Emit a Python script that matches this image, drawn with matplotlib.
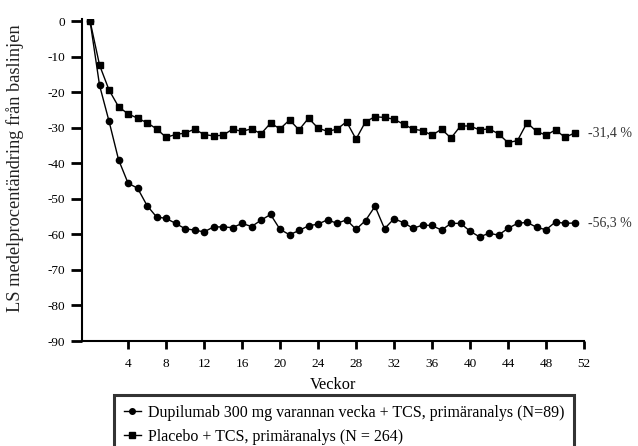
#LS mean percent change from baseline, weekly, two arms
import matplotlib
matplotlib.use("Agg")
from matplotlib import pyplot as plt

plt.rcParams['font.family'] = ['Liberation Serif', 'DejaVu Serif']
plt.rcParams['axes.unicode_minus'] = False

# Weeks 0..51
weeks = list(range(52))

# Dupilumab 300 mg q2w + TCS
dupilumab = [0, -18.1, -28.2, -39.0, -45.6, -47.0, -51.9, -55.1, -55.5, -56.9,
             -58.4, -58.8, -59.3, -57.9, -57.9, -58.1, -56.9, -57.8, -56.0, -54.4,
             -58.6, -60.1, -58.9, -57.6, -57.1, -55.9, -56.9, -55.9, -58.6, -56.1,
             -52.1, -58.4, -55.6, -56.7, -58.3, -57.4, -57.5, -58.8, -56.9, -56.9,
             -59.1, -60.7, -59.7, -60.2, -58.3, -56.9, -56.6, -58.0, -58.7, -56.5,
             -56.9, -56.8]

# Placebo + TCS
placebo = [0, -12.4, -19.4, -24.1, -26.1, -27.3, -28.6, -30.3, -32.7, -31.9,
           -31.5, -30.4, -31.9, -32.3, -32.1, -30.4, -31.0, -30.3, -31.7, -28.7,
           -30.3, -27.8, -30.6, -27.3, -30.1, -31.0, -30.4, -28.3, -33.2, -28.3,
           -26.9, -27.1, -27.6, -29.0, -30.4, -30.8, -32.1, -30.4, -32.9, -29.5,
           -29.5, -30.6, -30.3, -31.7, -34.2, -33.6, -28.6, -31.0, -32.1, -30.6,
           -32.7, -31.5]

end_labels = ["-56,3 %", "-31,4 %"]
series_names = ["Dupilumab 300 mg varannan vecka + TCS, primäranalys (N=89)",
                "Placebo + TCS, primäranalys (N = 264)"]

W, H = 638, 446
fig = plt.figure(figsize=(W / 100, H / 100), dpi=100)
ax = fig.add_axes([82 / W, 1 - 341 / H, (584 - 82) / W, (341 - 19) / H])

l1, = ax.plot(weeks, dupilumab, color='black', lw=1, marker='o', markersize=4.5)
l2, = ax.plot(weeks, placebo, color='black', lw=1, marker='s', markersize=5)

ax.text(52.4, dupilumab[-1], end_labels[0], va='center', ha='left', fontsize=10,
        color='#333333')
ax.text(52.4, placebo[-1], end_labels[1], va='center', ha='left', fontsize=10,
        color='#333333')

ax.set_xlim(-0.85, 52)
ax.set_ylim(-90, 0.6)
ax.set_xticks(range(4, 53, 4))
ax.set_yticks(range(-90, 1, 10))
ax.tick_params(axis='x', direction='out', length=6, width=2, labelsize=9.5, pad=6)
ax.tick_params(axis='y', direction='out', length=8, width=2, labelsize=9.5, pad=4)

for s in ['top', 'right']:
    ax.spines[s].set_visible(False)
for s in ['left', 'bottom']:
    ax.spines[s].set_linewidth(1.5)

ax.set_xlabel("Veckor", fontsize=11.8, labelpad=5)
fig.text(15 / W, 1 - 168 / H, "LS medelprocentändring från baslinjen",
         rotation=90, ha='center', va='center', fontsize=13.2, color='#222222')

leg = fig.legend([l1, l2], series_names, loc='upper left',
                 bbox_to_anchor=(114 / W, 1 - 395 / H), fontsize=11.5,
                 frameon=True, fancybox=False, borderpad=0.6,
                 handlelength=1.1, handletextpad=0.4, labelspacing=0.5,
                 borderaxespad=0)
leg.get_frame().set_edgecolor('black')
leg.get_frame().set_linewidth(2.2)
for h in leg.legend_handles:
    h.set_markersize(4)

plt.savefig("out.png", dpi=100)
